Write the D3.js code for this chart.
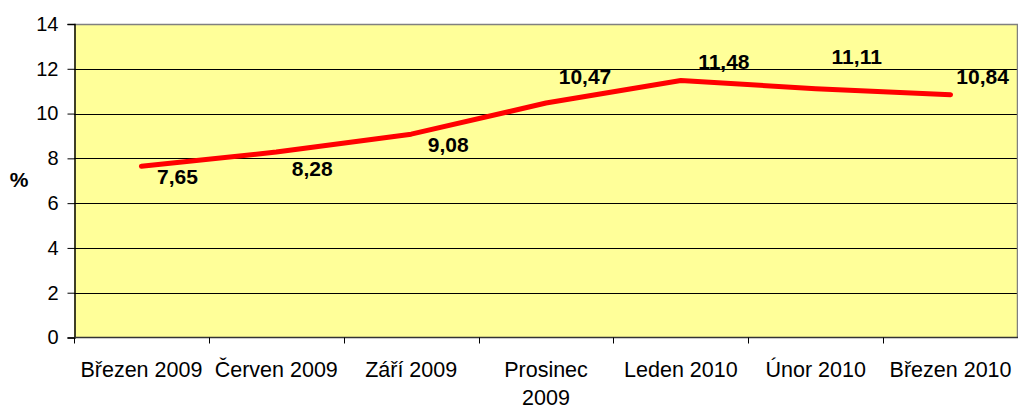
<!DOCTYPE html>
<html>
  <head>
    <meta charset='utf-8' />
    <title>Line Chart</title>
    <style>
      body { margin: 0; background: #fff; }
      svg text { font-family: Arial, "Liberation Sans", sans-serif; fill: #000; }
      .tick-y { font-size: 20px; }
      .tick-x { font-size: 21.5px; }
      .data-label { font-size: 21px; font-weight: bold; }
      #unit { font-size: 21px; font-weight: bold; }
    </style>
  </head>
<body>
  <svg id="svgContainer" width="1018" height="407"></svg>

  <script src="https://d3js.org/d3.v7.min.js"></script>
  <script>
    // chart data
    const categories = ["Březen 2009", "Červen 2009", "Září 2009", "Prosinec 2009", "Leden 2010", "Únor 2010", "Březen 2010"];
    const tickLabels = [["Březen 2009"], ["Červen 2009"], ["Září 2009"], ["Prosinec", "2009"], ["Leden 2010"], ["Únor 2010"], ["Březen 2010"]];
    const values = [7.65, 8.28, 9.08, 10.47, 11.48, 11.11, 10.84];
    const yTicks = [0, 2, 4, 6, 8, 10, 12, 14];

    // where Excel put each data label, relative to the point (px)
    const labelDx = [36, 36, 37, 39, 43, 41, 32];
    const labelDy = [10, 16, 10, -27, -19, -32, -18];

    const w = 1018, h = 407;
    const padLeft = 74, padRight = 1018, padTop = 24, padBottom = 337.5;

    const svg = d3.select("#svgContainer");

    const xScale = d3.scaleBand()
                     .domain(categories)
                     .range([padLeft, padRight]);

    const yScale = d3.scaleLinear()
                     .domain([0, 14])
                     .range([padBottom, padTop]);

    const czech = d3.formatLocale({decimal: ",", thousands: " ", grouping: [3], currency: ["", " Kč"]});
    const fmt = czech.format(".2f");

    // plot area
    svg.append("rect")
       .attr("x", padLeft)
       .attr("y", padTop)
       .attr("width", padRight - padLeft)
       .attr("height", padBottom - padTop)
       .attr("fill", "#FFFF99");

    // gridlines
    svg.append("g").selectAll("line")
       .data(yTicks.filter(d => d > 0 && d < 14))
       .enter()
       .append("line")
       .attr("x1", padLeft)
       .attr("x2", padRight)
       .attr("y1", d => Math.round(yScale(d)) + 0.5)
       .attr("y2", d => Math.round(yScale(d)) + 0.5)
       .attr("stroke", "#000")
       .attr("stroke-width", 1);

    // top + right border (gray)
    svg.append("path")
       .attr("d", `M${padLeft},${Math.round(padTop) + 0.5}H${padRight - 0.5}V${padBottom}`)
       .attr("fill", "none")
       .attr("stroke", "#808080")
       .attr("stroke-width", 1.5);

    // y axis
    const yAxis = d3.axisLeft(yScale)
                    .tickValues(yTicks)
                    .tickSize(7)
                    .tickPadding(9)
                    .tickFormat(d3.format("d"));

    const gy = svg.append("g")
       .attr("transform", "translate(" + (padLeft + 0.5) + ",0)")
       .call(yAxis);
    gy.select(".domain").attr("stroke", "#000").attr("stroke-width", 1.5);
    gy.selectAll(".tick line").attr("stroke", "#000");
    gy.selectAll(".tick text").attr("class", "tick-y");
    gy.attr("font-size", null).attr("font-family", null);

    // x axis: ticks at band edges
    const edges = categories.map(c => xScale(c));
    const gx = svg.append("g");
    gx.append("line")
      .attr("x1", padLeft)
      .attr("x2", padRight)
      .attr("y1", padBottom)
      .attr("y2", padBottom)
      .attr("stroke", "#333")
      .attr("stroke-width", 1.5);
    gx.selectAll("line.edge")
      .data(edges)
      .enter()
      .append("line")
      .attr("class", "edge")
      .attr("x1", d => Math.round(d) + 0.5)
      .attr("x2", d => Math.round(d) + 0.5)
      .attr("y1", padBottom)
      .attr("y2", padBottom + 6)
      .attr("stroke", "#000");

    const xt = gx.selectAll("text")
      .data(categories)
      .enter()
      .append("text")
      .attr("class", "tick-x")
      .attr("text-anchor", "middle")
      .attr("x", d => xScale(d) + xScale.bandwidth() / 2)
      .attr("y", 377);
    xt.each(function(d, i) {
      const t = d3.select(this);
      tickLabels[i].forEach((line, j) => {
        t.append("tspan")
         .attr("x", xScale(d) + xScale.bandwidth() / 2)
         .attr("dy", j === 0 ? 0 : 28)
         .text(line);
      });
    });

    // line
    const line = d3.line()
                   .x((d, i) => xScale(categories[i]) + xScale.bandwidth() / 2)
                   .y(d => yScale(d));

    svg.append("path")
       .datum(values)
       .attr("d", line)
       .attr("fill", "none")
       .attr("stroke", "#FF0000")
       .attr("stroke-width", 5)
       .attr("stroke-linecap", "round")
       .attr("stroke-linejoin", "round");

    // data labels
    svg.append("g").selectAll("text")
       .data(values)
       .enter()
       .append("text")
       .attr("class", "data-label")
       .attr("text-anchor", "middle")
       .attr("dominant-baseline", "central")
       .attr("x", (d, i) => xScale(categories[i]) + xScale.bandwidth() / 2 + labelDx[i])
       .attr("y", (d, i) => yScale(d) + labelDy[i])
       .text(d => fmt(d));

    // unit label
    svg.append("text")
       .attr("id", "unit")
       .attr("x", 19)
       .attr("y", 187)
       .attr("text-anchor", "middle")
       .text("%");
  </script>
</body>
</html>
